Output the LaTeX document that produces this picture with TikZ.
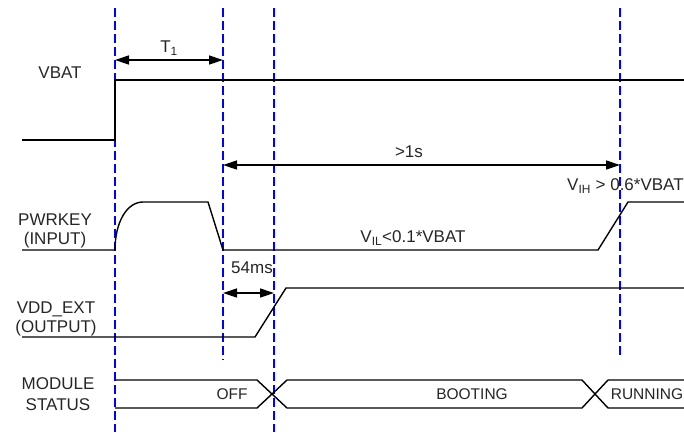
\documentclass[tikz,border=0pt]{standalone}
\usepackage{fontspec}
\setmainfont{Liberation Sans}
\usetikzlibrary{arrows.meta}
\tikzset{
  guide/.style={draw=blue, line width=1.4pt, dash pattern=on 9pt off 4pt},
  wave/.style={draw=black, line width=1.4pt, line join=miter},
  dim/.style={draw=black, line width=1.4pt, {Triangle[length=14pt,width=9pt]}-{Triangle[length=14pt,width=9pt]}},
  sig/.style={font=\fontsize{17}{19}\selectfont, text=black!85, inner sep=0pt, align=center},
  lbl/.style={font=\fontsize{15.5}{17}\selectfont, text=black!85, inner sep=0pt},
}
\begin{document}
\begin{tikzpicture}[x=1pt,y=-1pt]
\useasboundingbox (0,0) rectangle (684,432);
% guide lines
\coordinate (g1t) at (115,8);  \coordinate (g1b) at (115,432);
\coordinate (g2t) at (223,8);  \coordinate (g2b) at (223,360);
\coordinate (g3t) at (274,8);  \coordinate (g3b) at (274,432);
\coordinate (g4t) at (620,8);  \coordinate (g4b) at (620,357);
\draw[guide] (g1t) -- (g1b);
\draw[guide] (g2t) -- (g2b);
\draw[guide] (g3t) -- (g3b);
\draw[guide] (g4t) -- (g4b);
% VBAT
\node[sig] (vbat) at (60,73) {VBAT};
\draw[wave] (22,140) -- (115,140) -- (115,80) -- (684,80);
% T1
\coordinate (t1a) at (115,60); \coordinate (t1b) at (223,60);
\draw[dim] (t1a) -- (t1b);
\node[sig] (t1) at (169,48) {T\textsubscript{1}};
% >1s
\coordinate (s1a) at (223,165); \coordinate (s1b) at (620,165);
\draw[dim] (s1a) -- (s1b);
\node[sig] (s1) at (409,152) {>1s};
% PWRKEY
\node[sig] (pk) at (55,231) {PWRKEY\\(INPUT)};
\draw[wave] (22,250) -- (115,250) .. controls (115,222) and (127,202) .. (143,202)
  -- (208,202) -- (223,250) -- (598,250) -- (628,202) -- (684,202);
\node[sig, anchor=west] (vih) at (567,186) {V\textsubscript{IH} > 0.6*VBAT};
\node[sig] (vil) at (413,238) {V\textsubscript{IL}<0.1*VBAT};
% 54ms
\node[sig] (ms) at (252,268) {54ms};
\coordinate (m1a) at (223,293); \coordinate (m1b) at (274,293);
\draw[dim] (m1a) -- (m1b);
% VDD_EXT
\node[sig] (vdd) at (56,319) {VDD\_EXT\\(OUTPUT)};
\draw[wave] (22,337) -- (255,337) -- (286,288) -- (684,288);
% MODULE STATUS
\node[sig] (ms2) at (58,394) {MODULE\\[2pt]STATUS};
\draw[wave] (115,380) -- (257,380) -- (287,408) -- (582,408) -- (608,380) -- (684,380);
\draw[wave] (115,408) -- (257,408) -- (287,380) -- (582,380) -- (608,408) -- (684,408);
\node[lbl] (off) at (232,394) {OFF};
\node[lbl] (boot) at (472,394) {BOOTING};
\node[lbl] (run) at (647,394) {RUNNING};
\end{tikzpicture}
\end{document}
